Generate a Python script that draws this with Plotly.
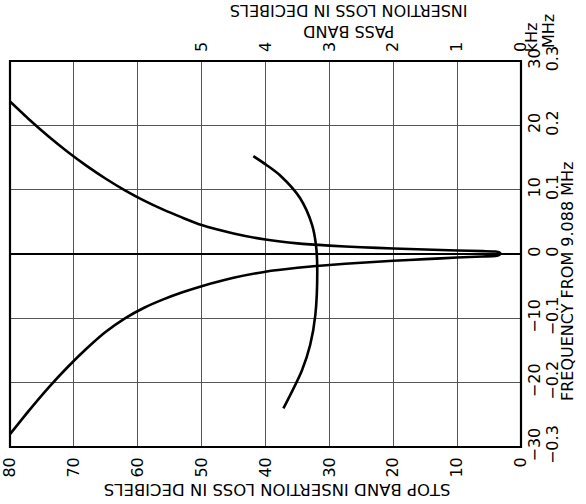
import plotly.graph_objects as go

# Stop band curve (bottom axis: stop band insertion loss dB, right axis: frequency kHz)
upper_loss = [80, 77, 74, 71, 68, 65, 62, 59, 56, 53, 50, 45, 40, 35, 30, 25, 20, 15, 10, 6, 4, 3.4, 3.2]
upper_freq = [23.7, 20.9, 18.3, 15.9, 13.7, 11.7, 9.9, 8.3, 6.9, 5.65, 4.5, 3.2, 2.25, 1.65, 1.3, 1.05, 0.85, 0.7, 0.55, 0.45, 0.38, 0.25, 0.05]
lower_loss = [3.4, 4, 6, 10, 15, 20, 25, 30, 35, 40, 45, 50, 53, 56, 59, 62, 65, 68, 71, 74, 77, 80]
lower_freq = [-0.15, -0.3, -0.38, -0.55, -0.8, -1.05, -1.35, -1.7, -2.15, -2.75, -3.7, -5.0, -5.95, -7.05, -8.35, -10.0, -12.1, -14.7, -17.6, -20.8, -24.3, -28.0]
stop_loss = upper_loss + lower_loss
stop_freq = upper_freq + lower_freq

# Pass band curve (top axis: pass band insertion loss dB)
pass_loss = [4.19, 3.98, 3.77, 3.46, 3.27, 3.21, 3.19, 3.22, 3.30, 3.43, 3.72]
pass_freq = [15.2, 13.8, 12.2, 8.7, 4.5, 1.4, -2.2, -9.5, -14.1, -18.1, -24.0]

stop_ticks = [80, 70, 60, 50, 40, 30, 20, 10, 0]
pass_ticks = [5, 4, 3, 2, 1, 0]
freq_ticks = [-30, -20, -10, 0, 10, 20, 30]
khz_labels = ["\u221230", "\u221220", "\u221210", "0", "10", "20", "30"]
mhz_labels = ["\u22120.3", "\u22120.2", "\u22120.1", "0", "0.1", "0.2", "0.3"]

FONT = "DejaVu Sans"
TF = dict(family=FONT, size=16, color="black")

fig = go.Figure()
fig.add_trace(go.Scatter(x=stop_loss, y=stop_freq, mode="lines", xaxis="x", yaxis="y",
                         line=dict(color="black", width=2.6, shape="spline", smoothing=0.6),
                         showlegend=False, hoverinfo="skip"))
fig.add_trace(go.Scatter(x=pass_loss, y=pass_freq, mode="lines", xaxis="x2", yaxis="y",
                         line=dict(color="black", width=2.6, shape="spline", smoothing=0.8),
                         showlegend=False, hoverinfo="skip"))

grid = dict(showgrid=True, gridcolor="#555555", gridwidth=1)

fig.update_layout(
    width=586, height=504,
    margin=dict(l=10, r=65, t=61, b=57, autoexpand=False),
    paper_bgcolor="white", plot_bgcolor="white",
    font=TF,
    xaxis=dict(range=[80, 0], tickvals=stop_ticks, ticktext=[str(v) for v in stop_ticks],
               tickangle=-90, ticks="", ticklabelstandoff=6, zeroline=False, automargin=False,
               tickfont=TF, **grid),
    xaxis2=dict(range=[8, 0], overlaying="x", side="top", tickvals=pass_ticks,
                ticktext=[str(v) for v in pass_ticks], tickangle=-90, ticks="", automargin=False,
                ticklabelstandoff=8, showgrid=False, zeroline=False, tickfont=TF),
    yaxis=dict(range=[-30, 30], side="right", tickvals=freq_ticks, ticktext=khz_labels,
               tickangle=-90, ticks="", ticklabelstandoff=2, zeroline=True, automargin=False,
               zerolinecolor="black", zerolinewidth=2, tickfont=TF, **grid),
    yaxis2=dict(range=[-30, 30], overlaying="y", side="right", tickvals=freq_ticks,
                ticktext=mhz_labels, tickangle=-90, ticks="", ticklabelstandoff=20, automargin=False,
                showgrid=False, zeroline=False, tickfont=TF),
)

# invisible trace so the second frequency axis is drawn
fig.add_trace(go.Scatter(x=[None], y=[None], xaxis="x", yaxis="y2", showlegend=False))

fig.add_shape(type="rect", xref="paper", yref="paper", x0=0, x1=1, y0=0, y1=1,
              line=dict(color="black", width=2.2), layer="above")

fig.add_annotation(text="PASS BAND<br>INSERTION LOSS IN DECIBELS", textangle=180,
                   xref="paper", yref="paper", x=0.663, y=1.105, showarrow=False,
                   xanchor="center", yanchor="middle", font=TF)
fig.add_annotation(text="STOP BAND INSERTION LOSS IN DECIBELS", textangle=180,
                   xref="paper", yref="paper", x=0.522, y=-0.112, showarrow=False,
                   xanchor="center", yanchor="middle", font=dict(family=FONT, size=16.5, color="black"))
fig.add_annotation(text="FREQUENCY FROM 9.088 MHz", textangle=-90,
                   xref="paper", yref="paper", x=1.09, y=0.43, showarrow=False,
                   xanchor="center", yanchor="middle", font=dict(family=FONT, size=16, color="black"))
fig.add_annotation(text="kHz", textangle=-90, xref="paper", yref="paper",
                   x=1.02, y=1.062, showarrow=False, xanchor="center", yanchor="middle", font=TF)
fig.add_annotation(text="MHz", textangle=-90, xref="paper", yref="paper",
                   x=1.055, y=1.078, showarrow=False, xanchor="center", yanchor="middle", font=TF)

fig.write_html("out.html", config={"displayModeBar": False},
               post_script="document.body.style.margin='0';")
